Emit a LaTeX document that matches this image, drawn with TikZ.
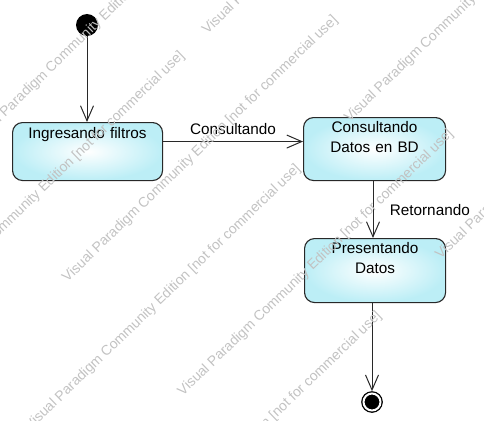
\documentclass[tikz,border=0pt]{standalone}
\usepackage{fontspec}
\setmainfont{Liberation Sans}
\usetikzlibrary{arrows.meta,positioning}

\definecolor{stateedge}{RGB}{40,40,40}
\definecolor{statefill}{RGB}{188,238,246}
\newcommand{\labfont}{\fontsize{15.3}{20}\selectfont}
\newcommand{\wmfont}{\fontsize{14}{16}\selectfont}

\tikzset{
  state/.style={draw=stateedge, line width=1.1pt, rounded corners=10pt,
    inner color=white, outer color=statefill, inner sep=0pt, align=center,
    anchor=north west},
  initst/.style={circle, fill=black, minimum size=22pt, inner sep=0pt},
  finalst/.style={circle, draw=black, fill=black, line width=1.3pt, double=white,
    double distance=2pt, minimum size=17pt, inner sep=0pt, outer sep=2.3pt},
  trans/.style={draw=stateedge, line width=1pt, -{Straight Barb[length=15pt,width=13pt]}},
  wmark/.style={text=black!24, font=\wmfont, rotate=44, anchor=base west, inner sep=0pt}
}

\begin{document}
\begin{tikzpicture}[x=1pt,y=-1pt,font=\labfont]
    \useasboundingbox (0,0) rectangle (484,420);
    % states
    \node[initst] (inicio) at (87,25) {};
    \node[state, text width=150pt, text height=16pt, text depth=42pt] (ingresando) at (12,122) {Ingresando filtros};
    \node[state, text width=142pt, text height=15pt, text depth=48pt] (consultando) at (303,117) {Consultando\\Datos en BD};
    \node[state, text width=141pt, text height=15pt, text depth=49pt] (presentando) at (304,238) {Presentando\\Datos};
    \node[finalst] (fin) at (372,402) {};
    % transitions
    \draw[trans] (inicio) -- (inicio |- ingresando.north);
    \draw[trans] ([yshift=10pt]ingresando.east) -- ([yshift=10pt]ingresando.east -| consultando.west)
        node[midway, above=3pt] (lblcons) {Consultando};
    \draw[trans] (consultando.south -| 373,0) -- (presentando.north -| 373,0)
        node[midway, right=13pt] (lblret) {Retornando};
    \draw[trans] (presentando.south -| fin) -- (fin);
    % watermark
    \begin{scope}
        \clip (0,0) rectangle (484,420);
        \foreach \k/\u [count=\i] in {0/-120,1/-283,1/125,2/-148,3/-278,3/166,4/-144,5/-322,5/136}{
            \pgfmathsetmacro\nn{88+81*\k}
            \node[wmark] (marca\i) at ({0.695*\nn+0.719*\u},{0.719*\nn-0.695*\u})
                {Visual Paradigm Community Edition [not for commercial use]};
        }
    \end{scope}
\end{tikzpicture}
\end{document}
